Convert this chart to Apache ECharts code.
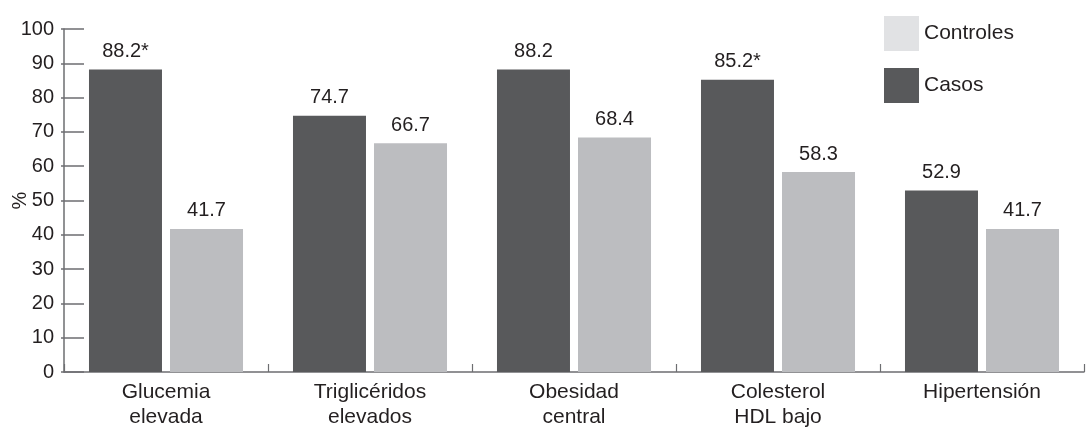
<!DOCTYPE html>
<html>
<head>
<meta charset="utf-8">
<script src="https://cdn.jsdelivr.net/npm/echarts@6/dist/echarts.min.js"></script>
<style>
  html, body { margin: 0; padding: 0; background: #ffffff; }
  #chart { width: 1088px; height: 429px; }
</style>
</head>
<body>
<div id="chart"></div>
<script>
// Síndrome metabólico: componentes en casos y controles (%)
const categories = ['Glucemia\nelevada', 'Triglicéridos\nelevados', 'Obesidad\ncentral', 'Colesterol\nHDL bajo', 'Hipertensión'];
const casos = [88.2, 74.7, 88.2, 85.2, 52.9];
const controles = [41.7, 66.7, 68.4, 58.3, 41.7];
// diferencias significativas marcadas con asterisco
const casosMarca = ['*', '', '', '*', ''];
const yTicks = [0, 10, 20, 30, 40, 50, 60, 70, 80, 90, 100];

const DARK = '#58595b';
const LIGHT = '#bcbdc0';
const LEGEND_LIGHT = '#e1e2e4';
const TEXT = '#231f20';
const AXIS = '#6d6e71';
const FONT = '"Liberation Sans", Arial, Helvetica, sans-serif';
const NUM_SIZE = 20;
const WORD_SIZE = 21;

const chart = echarts.init(document.getElementById('chart'), null, { renderer: 'canvas' });

const labelStyle = {
  show: true,
  position: 'top',
  distance: 8,
  color: TEXT,
  fontFamily: FONT,
  fontSize: NUM_SIZE
};

chart.setOption({
  animation: false,
  backgroundColor: '#ffffff',
  textStyle: { fontFamily: FONT, color: TEXT },
  grid: { left: 64, right: 4, top: 29, bottom: 57, containLabel: false, outerBoundsMode: 'none' },
  legend: {
    orient: 'vertical',
    left: 879,
    top: 11,
    itemWidth: 35,
    itemHeight: 35,
    itemGap: 17,
    itemTextGap: 9,
    icon: 'rect',
    selectedMode: false,
    textStyle: { fontFamily: FONT, fontSize: WORD_SIZE, color: TEXT },
    data: [
      { name: 'Controles', itemStyle: { color: LEGEND_LIGHT } },
      { name: 'Casos', itemStyle: { color: DARK } }
    ]
  },
  xAxis: {
    type: 'category',
    data: categories,
    axisLine: { show: true, lineStyle: { color: AXIS, width: 1.5 } },
    axisTick: { show: true, inside: true, length: 8, alignWithLabel: false, lineStyle: { color: AXIS, width: 1.2 } },
    axisLabel: { color: TEXT, fontFamily: FONT, fontSize: WORD_SIZE, lineHeight: 25, margin: 8, interval: 0 }
  },
  yAxis: [
    {
      type: 'value',
      min: 0,
      max: 100,
      interval: 10,
      name: '%',
      nameLocation: 'middle',
      nameGap: 34,
      nameMoveOverlap: false,
      nameTextStyle: { color: TEXT, fontFamily: FONT, fontSize: NUM_SIZE },
      axisLine: { show: true, lineStyle: { color: AXIS, width: 1.5 } },
      axisTick: { show: true, inside: true, length: 20, lineStyle: { color: AXIS, width: 1.5 } },
      axisLabel: {
        color: TEXT, fontFamily: FONT, fontSize: NUM_SIZE, margin: 10,
        formatter: v => (yTicks.indexOf(v) >= 0 ? String(v) : '')
      },
      splitLine: { show: false }
    },
    {
      // short outer stubs of the y ticks
      type: 'value',
      position: 'left',
      min: 0,
      max: 100,
      interval: 10,
      axisLine: { show: false },
      axisTick: { show: true, inside: false, length: 3, lineStyle: { color: AXIS, width: 1.5 } },
      axisLabel: { show: false },
      splitLine: { show: false }
    }
  ],
  series: [
    {
      name: 'Casos',
      type: 'bar',
      data: casos,
      barWidth: 73,
      barGap: '11%',
      itemStyle: { color: DARK },
      label: Object.assign({}, labelStyle, {
        formatter: p => p.value.toFixed(1) + casosMarca[p.dataIndex]
      })
    },
    {
      name: 'Controles',
      type: 'bar',
      data: controles,
      barWidth: 73,
      barGap: '11%',
      itemStyle: { color: LIGHT },
      label: Object.assign({}, labelStyle, {
        formatter: p => p.value.toFixed(1)
      })
    }
  ]
});
</script>
</body>
</html>
